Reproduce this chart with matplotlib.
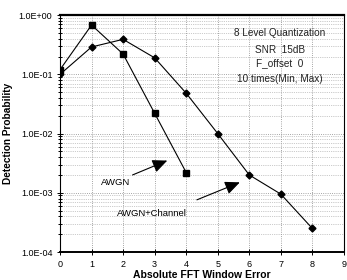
import matplotlib.pyplot as plt
from matplotlib.ticker import FixedLocator, LogLocator, NullFormatter

plt.rcParams["font.family"] = ["Liberation Sans", "DejaVu Sans"]

# data
awgn_x = [0, 1, 2, 3, 4]
awgn_p = [0.12, 0.68, 0.22, 0.022, 0.0022]
chan_x = [0, 1, 2, 3, 4, 5, 6, 7, 8]
chan_p = [0.10, 0.29, 0.39, 0.19, 0.048, 0.010, 0.0020, 0.00095, 0.00025]
y_ticks = [1e-4, 1e-3, 1e-2, 1e-1, 1e0]
y_labels = ["1.0E-04", "1.0E-03", "1.0E-02", "1.0E-01", "1.0E+00"]
x_ticks = list(range(10))
info = ["8 Level Quantization", "SNR  15dB", "F_offset  0", "10 times(Min, Max)"]

fig = plt.figure(figsize=(3.47, 2.80), dpi=100)
ax = fig.add_axes([0.173, 0.10, 0.818, 0.846])

ax.plot(awgn_x, awgn_p, color="black", lw=0.8, marker="s", ms=4.5)
ax.plot(chan_x, chan_p, color="black", lw=0.8, marker="D", ms=3.5)

ax.set_yscale("log")
ax.set_ylim(1e-4, 1)
ax.set_xlim(0, 9)
ax.set_yticks(y_ticks)
ax.set_yticklabels(y_labels)
ax.yaxis.set_minor_locator(LogLocator(base=10, subs=range(2, 10)))
ax.yaxis.set_minor_formatter(NullFormatter())
ax.xaxis.set_major_locator(FixedLocator(x_ticks))
ax.tick_params(axis="both", which="both", direction="inout", labelsize=6.5,
               length=4, width=0.7)
ax.tick_params(axis="y", which="minor", length=3)

ax.grid(True, which="major", color="#888888", lw=0.6, linestyle=":")
ax.grid(True, which="minor", axis="y", color="#999999", lw=0.5, linestyle=":")

for s in ax.spines.values():
    s.set_linewidth(0.8)
ax.spines["top"].set_linewidth(1.6)
ax.spines["bottom"].set_linewidth(1.4)

ax.set_xlabel("Absolute FFT Window Error", fontsize=7.5, fontweight="bold", labelpad=1)
ax.set_ylabel("Detection Probability", fontsize=7.3, fontweight="bold", labelpad=4)

for t, yf in zip(info, [0.924, 0.852, 0.797, 0.73]):
    ax.text(0.775, yf, t, transform=ax.transAxes,
            fontsize=7.2, ha="center", va="center", color="#222222")

arrow = dict(arrowstyle="-|>,head_length=0.9,head_width=0.4", color="black",
             lw=0.8, mutation_scale=10, shrinkA=0, shrinkB=0)
ax.annotate("", xy=(3.4, 0.0035), xytext=(2.3, 0.002), arrowprops=arrow)
ax.text(1.3, 0.0015, "AWGN", fontsize=6.8, ha="left", va="center")
ax.annotate("", xy=(5.7, 0.0015), xytext=(4.34, 0.00076), arrowprops=arrow)
ax.text(1.8, 0.00044, "AWGN+Channel", fontsize=6.8, ha="left", va="center")

fig.savefig("out.png", dpi=100, facecolor="white")
